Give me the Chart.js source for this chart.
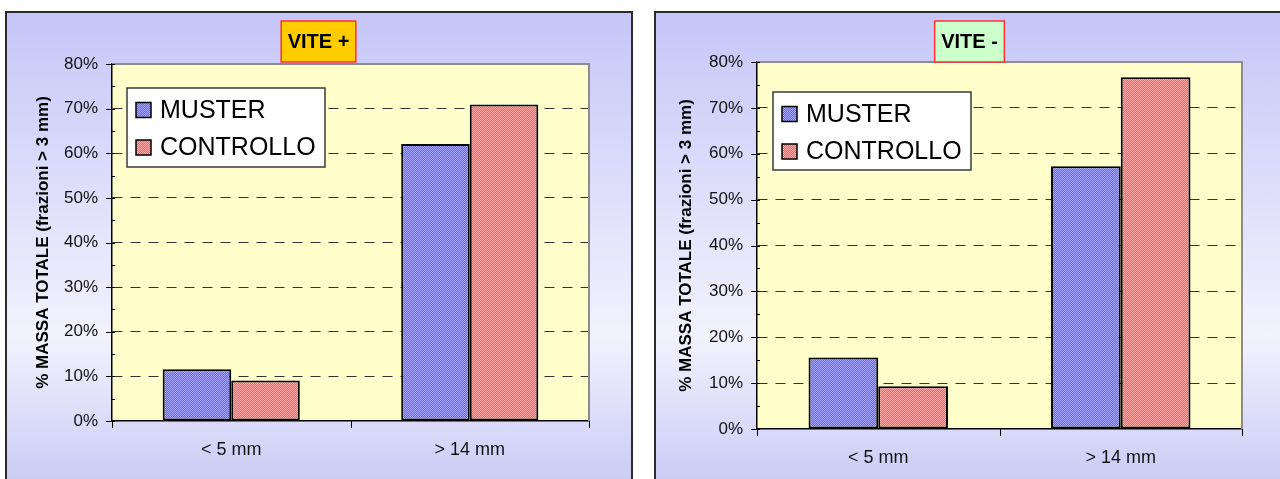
<!DOCTYPE html>
<html>
<head>
<meta charset="utf-8">
<script src="https://cdn.jsdelivr.net/npm/chart.js@4"></script>
<style>
  body { margin: 0; width: 1280px; height: 479px; overflow: hidden; background: #fff; position: relative; }
  .panel { position: absolute; top: 11px; height: 480px; box-sizing: border-box; border: 2px solid #2b2b2b;
           background: linear-gradient(#c6c6f8 0%, #f2f2fd 68%, #c9c9f5 100%); }
  .wrap { position: absolute; top: 0; width: 640px; height: 479px; }
</style>
</head>
<body>
<div class="panel" style="left:5px;width:628px"></div>
<div class="panel" style="left:654px;width:640px"></div>
<div class="wrap" style="left:0"><canvas id="c1" width="640" height="479"></canvas></div>
<div class="wrap" style="left:640px"><canvas id="c2" width="640" height="479"></canvas></div>
<script>
// dati
var categorie = ['< 5 mm', '> 14 mm'];
var serie = ['MUSTER', 'CONTROLLO'];
var vitePiuMuster = [11.6, 62.1];
var vitePiuControllo = [9.1, 70.9];
var viteMenoMuster = [15.6, 57.3];
var viteMenoControllo = [9.3, 76.7];
var yTicks = [0, 10, 20, 30, 40, 50, 60, 70, 80];
var yTitolo = '% MASSA TOTALE (frazioni > 3 mm)';

var F = "'Liberation Sans', Arial, sans-serif";

// riempimento a retino 2x2 come in Excel
function retino(c1, c2) {
  var p = document.createElement('canvas');
  p.width = 2; p.height = 2;
  var g = p.getContext('2d');
  g.fillStyle = c1; g.fillRect(0, 0, 2, 2);
  g.fillStyle = c2; g.fillRect(0, 0, 1, 1); g.fillRect(1, 1, 1, 1);
  return g.createPattern(p, 'repeat');
}
var blu = retino('#6a6aea', '#a3a3ff');
var rosso = retino('#ff6464', '#ffa3a3');

var decor = {
  id: 'decor',
  beforeDraw: function (chart) {
    var a = chart.chartArea, c = chart.ctx;
    c.save();
    c.fillStyle = '#ffffcc';
    c.fillRect(a.left, a.top, a.right - a.left, a.bottom - a.top);
    c.restore();
  },
  beforeDatasetsDraw: function (chart) {
    var a = chart.chartArea, c = chart.ctx, ys = chart.scales.y, xs = chart.scales.x;
    c.save();
    // cornice grigia sopra e a destra
    c.strokeStyle = '#8c8c8c'; c.lineWidth = 2;
    c.beginPath(); c.moveTo(a.left, a.top); c.lineTo(a.right, a.top); c.lineTo(a.right, a.bottom); c.stroke();
    // tacche asse y
    c.strokeStyle = '#000'; c.lineWidth = 1;
    ys.ticks.forEach(function (t) {
      var py = Math.round(ys.getPixelForValue(t.value)) + 0.5;
      var major = yTicks.indexOf(t.value) >= 0;
      c.beginPath();
      c.moveTo(a.left - (major ? 6 : 1), py);
      c.lineTo(a.left + 3, py);
      c.stroke();
    });
    // tacche asse x tra le categorie
    for (var i = 0; i <= categorie.length; i++) {
      var px = Math.round(xs.getPixelForValue(i - 0.5)) + 0.5;
      c.beginPath(); c.moveTo(px, a.bottom); c.lineTo(px, a.bottom + 7); c.stroke();
    }
    c.restore();
  },
  afterDatasetsDraw: function (chart, args, opts) {
    var c = chart.ctx, b = opts.box;
    c.save();
    // riquadro titolo
    c.font = 'bold 20px ' + F;
    var tw = c.measureText(opts.text).width + 13;
    c.fillStyle = opts.fill;
    c.fillRect(opts.cx - tw / 2, 21, tw, 41);
    c.strokeStyle = '#ff3030'; c.lineWidth = 1.5;
    c.strokeRect(opts.cx - tw / 2, 21, tw, 41);
    c.fillStyle = '#000'; c.textAlign = 'center'; c.textBaseline = 'middle';
    c.fillText(opts.text, opts.cx, 42);
    // legenda
    c.fillStyle = '#fff';
    c.fillRect(b[0], b[1], b[2], b[3]);
    c.strokeStyle = '#3a3a3a'; c.lineWidth = 1.5;
    c.strokeRect(b[0], b[1], b[2], b[3]);
    c.font = '25px ' + F; c.textAlign = 'left';
    chart.data.datasets.forEach(function (ds, i) {
      var cy = b[1] + 22 + i * 37.5;
      c.fillStyle = ds.backgroundColor;
      c.fillRect(b[0] + 9, cy - 7.5, 15, 15);
      c.strokeStyle = '#000'; c.lineWidth = 1.5;
      c.strokeRect(b[0] + 9, cy - 7.5, 15, 15);
      c.fillStyle = '#000';
      c.fillText(ds.label, b[0] + 33, cy + 1);
    });
    c.restore();
  }
};

function grafico(id, muster, controllo, titolo, fondo, cx, box, yw, pad, xh, tpad) {
  return new Chart(document.getElementById(id), {
    type: 'bar',
    data: {
      labels: categorie,
      datasets: [
        { label: serie[0], data: muster, backgroundColor: blu, borderColor: '#000', borderWidth: 2, borderSkipped: false },
        { label: serie[1], data: controllo, backgroundColor: rosso, borderColor: '#000', borderWidth: 2, borderSkipped: false }
      ]
    },
    options: {
      responsive: false,
      animation: false,
      categoryPercentage: 0.575,
      barPercentage: 1,
      layout: { padding: pad },
      plugins: {
        legend: { display: false },
        tooltip: { enabled: false },
        decor: { text: titolo, fill: fondo, cx: cx, box: box }
      },
      scales: {
        x: {
          grid: { drawOnChartArea: false, drawTicks: false },
          border: { color: '#000', width: 1.5 },
          ticks: { padding: 18, color: '#111', font: { size: 18, family: F } },
          afterFit: function (s) { s.height = xh; }
        },
        y: {
          min: 0, max: 80,
          ticks: {
            stepSize: 5, autoSkip: false, padding: 14, color: '#111',
            font: { size: 17, family: F },
            callback: function (v) { return yTicks.indexOf(v) >= 0 ? v + '%' : ''; }
          },
          grid: {
            drawTicks: false, lineWidth: 1,
            color: function (ctx) {
              var v = ctx.tick ? ctx.tick.value : 0;
              return (yTicks.indexOf(v) >= 0 && v > 0 && v < 80) ? '#333' : 'rgba(0,0,0,0)';
            }
          },
          border: { color: '#000', width: 1.5, dash: [10, 8] },
          title: {
            display: true, text: yTitolo, color: '#000',
            font: { size: 17, weight: 'bold', family: F },
            padding: { top: tpad, bottom: 0 }
          },
          afterFit: function (s) { s.width = yw; }
        }
      }
    },
    plugins: [decor]
  });
}

grafico('c1', vitePiuMuster, vitePiuControllo, 'VITE +', '#ffcc00', 318.5, [127, 88, 198, 79], 112,
  { left: 0, right: 51, top: 64, bottom: 0 }, 58, 33);
grafico('c2', viteMenoMuster, viteMenoControllo, 'VITE -', '#ccffcc', 329.5, [133, 92, 198, 78], 117,
  { left: 0, right: 38, top: 62, bottom: 0 }, 50, 36);
</script>
</body>
</html>
